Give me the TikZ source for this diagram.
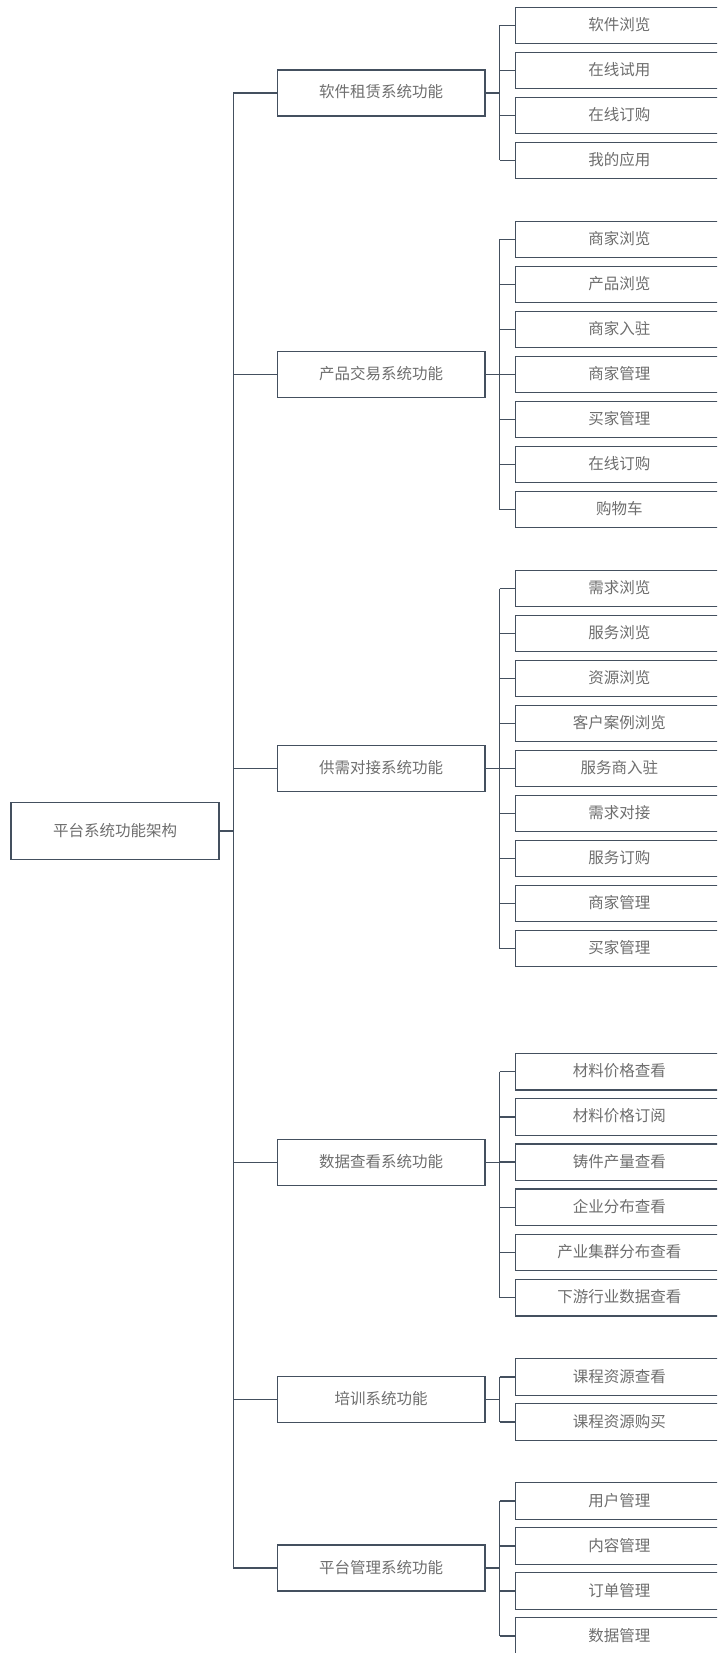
\documentclass[tikz,border=0pt]{standalone}
\usepackage{fontspec}
\setmainfont{Noto Sans CJK SC}
\definecolor{linecol}{HTML}{44505F}
\definecolor{textcol}{HTML}{6E6E6E}
\tikzset{
  box/.style={draw=linecol, line width=1.3pt, fill=white, inner sep=0pt,
    text=textcol, font=\fontsize{15.5pt}{18pt}\selectfont,
    text height=1.0em, text depth=0em, align=center},
  rootbox/.style={box, minimum width=208pt, minimum height=56.6pt},
  midbox/.style={box, minimum width=207.7pt, minimum height=46pt},
  leafbox/.style={box, minimum width=207.5pt, minimum height=36.5pt},
  conn/.style={draw=linecol, line width=1.3pt}
}
\begin{document}
\begin{tikzpicture}[x=1pt,y=-1pt]
\path[use as bounding box, clip] (0,0) rectangle (717,1653);
\fill[white] (0,0) rectangle (717,1653);
\coordinate (trunk) at (233.3,0);
\coordinate (br) at (499.5,0);

% root
\node[rootbox] (root) at (115,831) {平台系统功能架构};

% mid nodes
\node[midbox] (m1) at (381.15,93) {软件租赁系统功能};
\node[midbox] (m2) at (381.15,374.5) {产品交易系统功能};
\node[midbox] (m3) at (381.15,768.5) {供需对接系统功能};
\node[midbox] (m4) at (381.15,1162.5) {数据查看系统功能};
\node[midbox] (m5) at (381.15,1399.5) {培训系统功能};
\node[midbox] (m6) at (381.15,1568) {平台管理系统功能};

% group 1
\node[leafbox] (a1) at (619.25,25.5) {软件浏览};
\node[leafbox] (a2) at (619.25,70.5) {在线试用};
\node[leafbox] (a3) at (619.25,115.5) {在线订购};
\node[leafbox] (a4) at (619.25,160.5) {我的应用};
% group 2
\node[leafbox] (b1) at (619.25,239.5) {商家浏览};
\node[leafbox] (b2) at (619.25,284.5) {产品浏览};
\node[leafbox] (b3) at (619.25,329.5) {商家入驻};
\node[leafbox] (b4) at (619.25,374.5) {商家管理};
\node[leafbox] (b5) at (619.25,419.5) {买家管理};
\node[leafbox] (b6) at (619.25,464.5) {在线订购};
\node[leafbox] (b7) at (619.25,509.5) {购物车};
% group 3
\node[leafbox] (c1) at (619.25,588.5) {需求浏览};
\node[leafbox] (c2) at (619.25,633.5) {服务浏览};
\node[leafbox] (c3) at (619.25,678.5) {资源浏览};
\node[leafbox] (c4) at (619.25,723.5) {客户案例浏览};
\node[leafbox] (c5) at (619.25,768.5) {服务商入驻};
\node[leafbox] (c6) at (619.25,813.5) {需求对接};
\node[leafbox] (c7) at (619.25,858.5) {服务订购};
\node[leafbox] (c8) at (619.25,903.5) {商家管理};
\node[leafbox] (c9) at (619.25,948.5) {买家管理};
% group 4
\node[leafbox] (d1) at (619.25,1071.7) {材料价格查看};
\node[leafbox] (d2) at (619.25,1116.9) {材料价格订阅};
\node[leafbox] (d3) at (619.25,1162.1) {铸件产量查看};
\node[leafbox] (d4) at (619.25,1207.3) {企业分布查看};
\node[leafbox] (d5) at (619.25,1252.5) {产业集群分布查看};
\node[leafbox] (d6) at (619.25,1297.7) {下游行业数据查看};
% group 5
\node[leafbox] (e1) at (619.25,1377) {课程资源查看};
\node[leafbox] (e2) at (619.25,1422) {课程资源购买};
% group 6
\node[leafbox] (f1) at (619.25,1501) {用户管理};
\node[leafbox] (f2) at (619.25,1546) {内容管理};
\node[leafbox] (f3) at (619.25,1591) {订单管理};
\node[leafbox] (f4) at (619.25,1636) {数据管理};

% root to trunk
\draw[conn] (root.east) -- (root.east -| trunk);
\draw[conn] (m1.west -| trunk) -- (m6.west -| trunk);
\foreach \m in {m1,m2,m3,m4,m5,m6}{
  \draw[conn] (\m.west -| trunk) -- (\m.west);
}

% branches
\foreach \m/\first/\last/\list in {
  m1/a1/a4/{a1,a2,a3,a4},
  m2/b1/b7/{b1,b2,b3,b4,b5,b6,b7},
  m3/c1/c9/{c1,c2,c3,c4,c5,c6,c7,c8,c9},
  m4/d1/d6/{d1,d2,d3,d4,d5,d6},
  m5/e1/e2/{e1,e2},
  m6/f1/f4/{f1,f2,f3,f4}}{
  \draw[conn] (\m.east) -- (\m.east -| br);
  \draw[conn] (\first.west -| br) -- (\last.west -| br);
  \foreach \l in \list{
    \draw[conn] (\l.west -| br) -- (\l.west);
  }
}
\end{tikzpicture}
\end{document}
